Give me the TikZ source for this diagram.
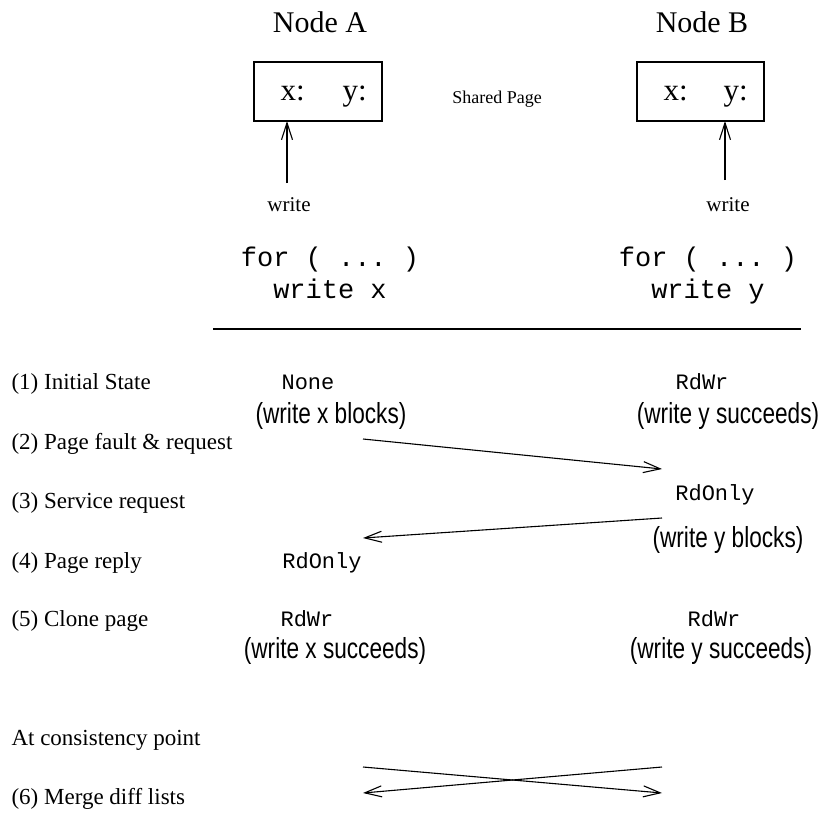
\documentclass[tikz,border=0pt]{standalone}
\usepackage{fontspec}
\usepackage{tikz}
\usetikzlibrary{arrows.meta}
\setmainfont{Liberation Serif}
\setmonofont{Liberation Mono}
\newfontfamily\narrowsans[FakeStretch=0.78]{Liberation Sans}

\begin{document}
\begin{tikzpicture}[x=1pt,y=-1pt,
    title/.style={font=\fontsize{30}{34}\selectfont,anchor=base},
    cell/.style={font=\fontsize{31}{34}\selectfont,anchor=base west},
    small/.style={font=\fontsize{21}{24}\selectfont,anchor=base},
    code/.style={font=\fontsize{27}{31}\ttfamily,anchor=base},
    stepname/.style={font=\fontsize{23}{26}\selectfont,anchor=base west},
    prot/.style={font=\fontsize{22}{26}\ttfamily,anchor=base},
    effect/.style={font=\fontsize{29}{34}\narrowsans,anchor=base},
    msg/.style={-{Straight Barb[length=17pt,width=11pt]},line width=1.1pt}]
        \useasboundingbox (0,0) rectangle (822,828);

        % Nodes and the shared page
        \node[title] (nodeA) at (320,32){Node A};
        \node[title] (nodeB) at (702,32){Node B};
        \draw[line width=1.1pt] (254,62) rectangle (382,121);
        \draw[line width=1.1pt] (637,62) rectangle (764,121);
        \node[cell] (xA) at (277,100){x:};
        \node[cell] (yA) at (339,100){y:};
        \node[cell] (xB) at (660,100){x:};
        \node[cell] (yB) at (720,100){y:};
        \node[font=\fontsize{18}{21}\selectfont,anchor=base] (shared) at (497,103){Shared Page};

        % Writers
        \node[small] (wrA) at (289,211){write};
        \node[small] (wrB) at (728,211){write};
        \coordinate (inA) at (287,121);
        \coordinate (inB) at (725,121);
        \draw[msg] (287,183) coordinate (outA) -- (inA);
        \draw[msg] (725,180) coordinate (outB) -- (inB);
        \node[code] (loopA) at (330,266){for ( ... )};
        \node[code] (bodyA) at (330,298){write x};
        \node[code] (loopB) at (708,266){for ( ... )};
        \node[code] (bodyB) at (708,298){write y};

        \draw[line width=1.1pt] (213,329) coordinate (ruleL) -- (801,329) coordinate (ruleR);

        % Steps
        \foreach \y/\n/\t in {389/s1/(1) Initial State, 449/s2/(2) Page fault \& request,
                               508/s3/(3) Service request, 568/s4/(4) Page reply,
                               626/s5/(5) Clone page, 745/s0/At consistency point,
                               804/s6/(6) Merge diff lists}{
          \node[stepname] (\n) at (8,\y){\t};
        }

        % Protection on each node
        \node[prot] (pA1) at (308,389){None};
        \node[prot] (pB1) at (702,389){RdWr};
        \node[effect] (eA1) at (331,423){(write x blocks)};
        \node[effect] (eB1) at (728,423){(write y succeeds)};
        \node[prot] (pB3) at (715,500){RdOnly};
        \node[effect] (eB3) at (728,547){(write y blocks)};
        \node[prot] (pA4) at (322,568){RdOnly};
        \node[prot] (pA5) at (307,626){RdWr};
        \node[prot] (pB5) at (714,626){RdWr};
        \node[effect] (eA5) at (335,658){(write x succeeds)};
        \node[effect] (eB5) at (721,658){(write y succeeds)};

        % Messages
        \coordinate (reqA) at (363,439);
        \coordinate (reqB) at (662,469);
        \coordinate (repB) at (662,518);
        \coordinate (repA) at (363,538);
        \draw[msg] (reqA) -- (reqB);
        \draw[msg] (repB) -- (repA);

        \coordinate (diffAt) at (363,767);
        \coordinate (diffAb) at (363,793);
        \coordinate (diffBt) at (662,767);
        \coordinate (diffBb) at (662,793);
        \draw[msg] (diffAt) -- (diffBb);
        \draw[msg] (diffBt) -- (diffAb);
\end{tikzpicture}
\end{document}
